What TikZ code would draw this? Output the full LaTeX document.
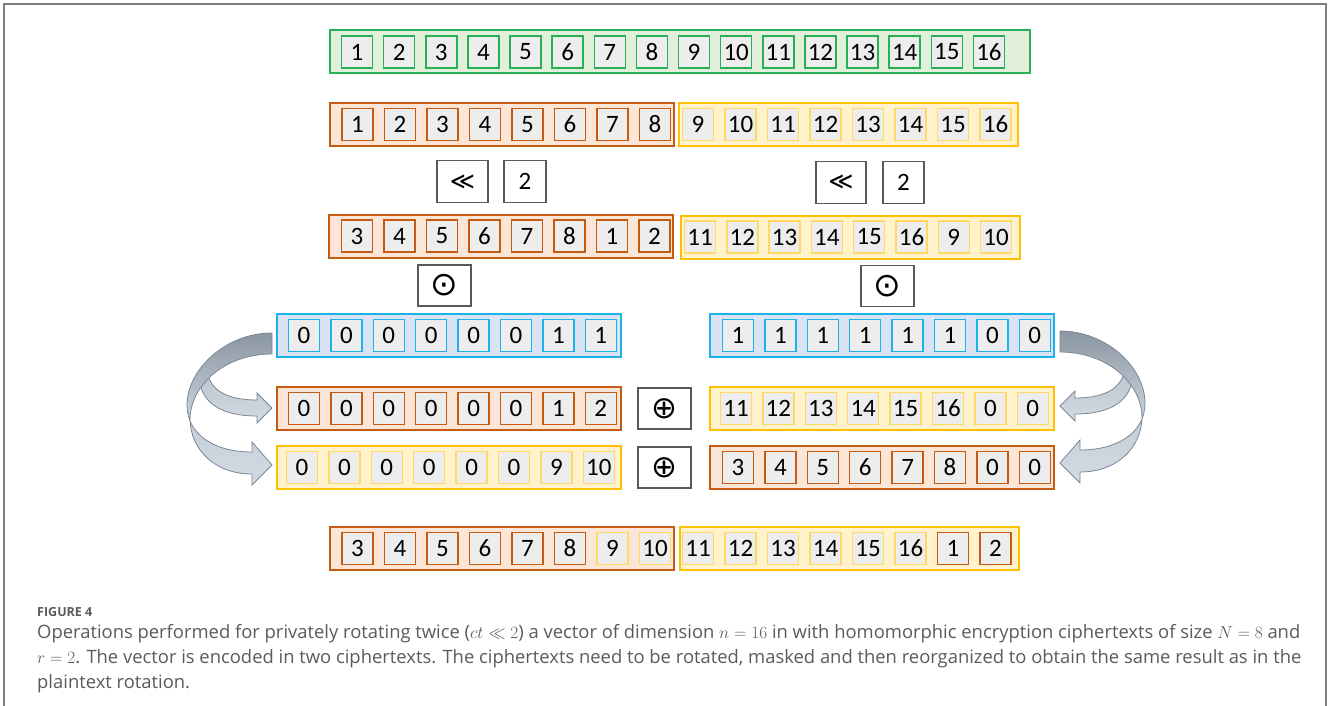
\documentclass[tikz,border=0pt]{standalone}
\usepackage{fontspec}
\setmainfont{Carlito}
\newfontfamily\capfont{Open Sans}
\newfontfamily\opfont{DejaVu Sans}
\usepackage{tikz}
\usetikzlibrary{calc}
\usepackage{xcolor}
\definecolor{grnline}{HTML}{27B055}
\definecolor{grnfill}{HTML}{E2EFDA}
\definecolor{orgline}{HTML}{C55A11}
\definecolor{orgfill}{HTML}{FBE5D6}
\definecolor{yelline}{HTML}{FFC000}
\definecolor{yelfill}{HTML}{FFF2CC}
\definecolor{yelcell}{HTML}{FFD966}
\definecolor{bluline}{HTML}{1CB2EA}
\definecolor{blufill}{HTML}{DAE3F3}
\definecolor{cellfill}{HTML}{EDEDED}
\definecolor{opline}{HTML}{595959}
\definecolor{arrdark}{HTML}{8A96A2}
\definecolor{arrlight}{HTML}{D2DAE3}
\definecolor{arredge}{HTML}{7A8896}
\definecolor{capgray}{HTML}{5A5A5A}
\definecolor{framegray}{HTML}{808080}
\tikzset{
  vbar/.style    = {draw, line width=2pt, minimum height=43pt, inner sep=0pt},
  orgbar/.style  = {vbar, draw=orgline, fill=orgfill, minimum width=344pt},
  yelbar/.style  = {vbar, draw=yelline, fill=yelfill, minimum width=339pt},
  blubar/.style  = {vbar, draw=bluline, fill=blufill, minimum width=344pt},
  cell/.style    = {line width=1.5pt, fill=cellfill, minimum width=31pt,
                    minimum height=32pt, inner sep=0pt,
                    font=\fontsize{25}{25}\selectfont},
  opbox/.style   = {draw=opline, line width=1.4pt, fill=white, minimum width=53pt,
                    minimum height=41pt, inner sep=0pt},
  bent/.style    = {draw=arredge, line width=0.8pt},
  capline/.style = {anchor=west, inner sep=0pt, text=capgray,
                    font=\capfont\fontsize{18.4}{18.4}\selectfont},
}
% name, first x, pitch, y, border colour, values
\newcommand{\cellrow}[6]{\foreach \v [count=\i] in {#6}
  \node[cell, draw=#5] (#1-\i) at ({#2+#3*(\i-1)},#4) {\v};}
% the two bent arrows, left side
\newcommand{\bentpair}{%
\path[bent, top color=arrlight!65!arrdark, bottom color=arrlight]
  (206,-366) .. controls (208,-390) and (226,-400) .. (257,-400) -- (257,-393)
  -- (272,-408) -- (257,-423) -- (257,-416)
  .. controls (220,-416) and (200,-402) .. (199,-376) -- cycle;
\path[bent, top color=arrdark, bottom color=arrlight, middle color=arrlight!80!arrdark]
  (272,-333) .. controls (225,-333) and (187,-370) .. (187,-405)
  .. controls (187,-435) and (215,-452) .. (252,-452) -- (252,-442)
  -- (272,-465) -- (252,-485) -- (252,-474)
  .. controls (215,-474) and (191,-450) .. (190,-420)
  .. controls (190,-385) and (225,-354) .. (272,-354) -- cycle;}

\begin{document}
\begin{tikzpicture}[x=1pt,y=1pt]
\useasboundingbox (0,0) rectangle (1328,-706);
\draw[framegray, line width=2pt] (4,-706) -- (4,-4) -- (1326,-4) -- (1326,-706);
% ---------- plaintext vector ----------
\node[vbar, draw=grnline, fill=grnfill, minimum width=700pt] (full) at (680,-52) {};
\cellrow{full}{357}{42.13}{-52}{grnline}{1,...,16}
% ---------- two ciphertexts ----------
\node[orgbar] (ctA) at (502,-124.5) {};
\node[yelbar] (ctB) at (848.5,-124.5) {};
\cellrow{ctA}{357.5}{42.5}{-124.5}{orgline}{1,...,8}
\cellrow{ctB}{698}{42.5}{-124.5}{yelcell}{9,...,16}
% ---------- rotation ----------
\node[opbox, minimum width=51pt, minimum height=42pt, font=\opfont\fontsize{24}{24}\selectfont] (rotA) at (462.5,-181.7) {≪};
\node[opbox, minimum width=42pt, minimum height=42pt, font=\fontsize{25}{25}\selectfont] (byA) at (525,-181.7) {2};
\node[opbox, minimum width=50pt, minimum height=42pt, font=\opfont\fontsize{24}{24}\selectfont] (rotB) at (841,-182.3) {≪};
\node[opbox, minimum width=41pt, minimum height=42pt, font=\fontsize{25}{25}\selectfont] (byB) at (903.5,-182.3) {2};
\node[orgbar] (rtA) at (501,-236) {};
\node[yelbar] (rtB) at (850,-237) {};
\cellrow{rtA}{357}{42.5}{-236}{orgline}{3,4,5,6,7,8,1,2}
\cellrow{rtB}{700}{42.3}{-237}{yelcell}{11,12,13,14,15,16,9,10}
% ---------- masks ----------
\node[opbox, font=\opfont\fontsize{33}{33}\selectfont] (dotA) at (444.5,-285.5) {⊙};
\node[opbox, font=\opfont\fontsize{33}{33}\selectfont] (dotB) at (887.5,-286) {⊙};
\node[blubar] (mkA) at (449,-335.5) {};
\node[blubar] (mkB) at (882,-335.5) {};
\cellrow{mkA}{304}{42.4}{-335.5}{bluline}{0,0,0,0,0,0,1,1}
\cellrow{mkB}{738}{42.4}{-335.5}{bluline}{1,1,1,1,1,1,0,0}
% ---------- masked parts ----------
\bentpair
\begin{scope}[xshift=1332pt, yshift=2pt, xscale=-1]
\bentpair
\end{scope}
\node[orgbar] (lo) at (449,-408.5) {};
\node[yelbar, minimum width=344pt] (hi) at (882,-408.5) {};
\node[opbox, font=\opfont\fontsize{31}{31}\selectfont] (sumA) at (664.5,-408.5) {⊕};
\cellrow{lo}{304}{42.4}{-408.5}{orgline}{0,0,0,0,0,0,1,2}
\cellrow{hi}{736}{42.4}{-408.5}{yelcell}{11,12,13,14,15,16,0,0}
\node[yelbar, minimum width=344pt] (loB) at (449,-467.5) {};
\node[orgbar] (hiB) at (882,-467.5) {};
\node[opbox, font=\opfont\fontsize{31}{31}\selectfont] (sumB) at (664.5,-467.5) {⊕};
\cellrow{loB}{302}{42.4}{-467.5}{yelcell}{0,0,0,0,0,0,9,10}
\cellrow{hiB}{738}{42.4}{-467.5}{orgline}{3,4,5,6,7,8,0,0}
% ---------- result ----------
\node[orgbar] (resA) at (502,-548.5) {};
\node[yelbar] (resB) at (849,-548.5) {};
\cellrow{resA}{357.5}{42.5}{-548.5}{orgline}{3,4,5,6,7,8}
\cellrow{resAx}{612.5}{42.5}{-548.5}{yelcell}{9,10}
\cellrow{resB}{698}{42.5}{-548.5}{yelcell}{11,12,13,14,15,16}
\cellrow{resBx}{953}{42.5}{-548.5}{orgline}{1,2}
% ---------- caption ----------
\node[capline, font=\capfont\bfseries\fontsize{12.5}{12.5}\selectfont] (fig) at (37,-612) {FIGURE 4};
\node[capline] (cap1) at (37,-634) {Operations performed for privately rotating twice ($ct \ll 2$) a vector of dimension $n = 16$ in with homomorphic encryption ciphertexts of size $N = 8$ and};
\node[capline] (cap2) at (37,-659) {$r = 2$. The vector is encoded in two ciphertexts. The ciphertexts need to be rotated, masked and then reorganized to obtain the same result as in the};
\node[capline] (cap3) at (37,-684) {plaintext rotation.};
\end{tikzpicture}
\end{document}
